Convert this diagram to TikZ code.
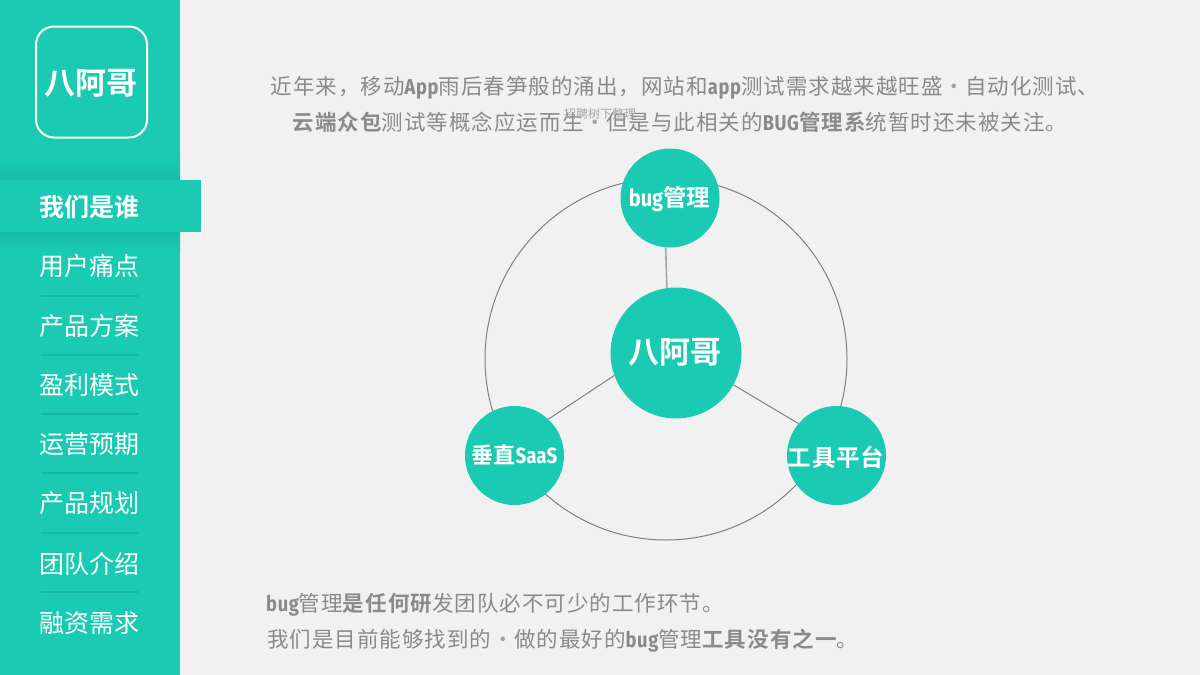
\documentclass[tikz,border=0pt]{standalone}
\usepackage{fontspec}
\setmainfont{Noto Sans CJK SC}
\newfontfamily\cjkb{Noto Sans CJK SC Bold}
\newfontfamily\latb[FakeStretch=0.85]{Fira Sans Bold}
\newfontfamily\bodyf[LetterSpace=4.8]{Noto Sans CJK SC}
\newfontfamily\bodyb[LetterSpace=4.8]{Noto Sans CJK SC Bold}
\newfontfamily\bodyl[FakeStretch=0.85,LetterSpace=3]{Fira Sans Bold}
\newfontfamily\hubf[LetterSpace=3]{Noto Sans CJK SC Bold}
\definecolor{teal1}{HTML}{1ACAB2}
\definecolor{teal2}{HTML}{14B8A2}
\definecolor{shade}{HTML}{18BCA6}
\definecolor{bgc}{HTML}{F1F1F1}
\definecolor{txt}{HTML}{8A8A8A}
\definecolor{ringc}{HTML}{808080}
\definecolor{spokec}{HTML}{A8A8A8}
\newcommand{\bb}[1]{{\bodyb #1}}
\newcommand{\la}[1]{{\bodyl #1}}
\newcommand{\hl}[1]{{\latb #1}}
\newcommand{\mdot}{\makebox[1.05em]{\textcolor{txt!80}{·}}}
\begin{document}
\begin{tikzpicture}[x=1pt,y=-1pt,
  menuitem/.style={text=white,font=\fontsize{25}{25}\selectfont,anchor=center,inner sep=0pt},
  sep/.style={teal2,line width=1.2pt},
  hub/.style={circle,fill=teal1,text=white,inner sep=0pt},
  spoke/.style={ringc,line width=1pt},
  bodytext/.style={text=txt,inner sep=0pt,font=\bodyf\fontsize{21.5}{21.5}\selectfont}]
\useasboundingbox (0,0) rectangle (1200,675);
\fill[bgc] (0,0) rectangle (1200,675);
\fill[teal1] (0,0) rectangle (180,675);
\shade[top color=teal1,bottom color=shade] (0,158) rectangle (180,180);
\shade[top color=shade,bottom color=teal1] (0,232) rectangle (180,250);
\fill[teal1] (0,180) rectangle (201,232);
\node[draw=white,line width=2pt,rounded corners=18pt,minimum width=111pt,minimum height=111pt,inner sep=0pt] (logo) at (91.5,82) {};
\node[text=white,inner sep=0pt,font=\cjkb\fontsize{31}{31}\selectfont] (logot) at (91,83) {八阿哥};
\node[menuitem,font=\cjkb\fontsize{25}{25}\selectfont] (m1) at (89,207) {我们是谁};
\node[menuitem] (m2) at (89,266) {用户痛点};
\node[menuitem] (m3) at (89,326) {产品方案};
\node[menuitem] (m4) at (89,385) {盈利模式};
\node[menuitem] (m5) at (89,444) {运营预期};
\node[menuitem] (m6) at (89,503) {产品规划};
\node[menuitem] (m7) at (89,564) {团队介绍};
\node[menuitem] (m8) at (89,623) {融资需求};
\foreach \y in {296,355,414,473,533,592} \draw[sep] (41,\y) -- (138,\y);
\node[bodytext] (t1) at (685,88) {近年来，移动\la{App}雨后春笋般的涌出，网站和\la{app}测试需求越来越旺盛\mdot 自动化测试、};
\node[bodytext] (t2) at (680,122) {\bb{云端众包}测试等概念应运而生\mdot 但是与此相关的\la{BUG}\bb{管理系}统暂时还未被关注。};
\node[text=txt!75,inner sep=0pt,font=\fontsize{12}{12}\selectfont] (t3) at (600,114) {招聘树下整理};
\node[draw=ringc,line width=1pt,circle,minimum size=362pt,inner sep=0pt] (ring) at (666,359) {};
\node[hub,minimum size=131pt] (c) at (676,353) {};
\node[text=white,inner sep=0pt,font=\cjkb\fontsize{31}{31}\selectfont] (ct) at (675,352) {八阿哥};
\node[hub,minimum size=99pt] (a) at (670,198) {};
\node[text=white,inner sep=0pt,font=\cjkb\fontsize{23.5}{23.5}\selectfont] (at) at (669.5,199) {\hl{bug}管理};
\node[hub,minimum size=99pt] (b) at (514.5,455.5) {};
\node[text=white,inner sep=0pt,font=\cjkb\fontsize{22}{22}\selectfont] (bt) at (514.5,455) {垂直\hl{SaaS}};
\node[hub,minimum size=99pt] (d) at (836.5,455.5) {};
\node[text=white,inner sep=0pt,font=\hubf\fontsize{23.5}{23.5}\selectfont] (dt) at (836,457) {工具平台};
\draw[spokec,line width=1.6pt] (a.265.4) -- (c.98.8);
\draw[spoke] (c.200.9) -- (b.47.5);
\draw[spoke] (c.-29.6) -- (d.140.7);
\node[bodytext,anchor=west] (b1) at (266,605) {\la{bug}管理\bb{是任何研}发团队必不可少的工作环节。};
\node[bodytext,anchor=west] (b2) at (267,641) {我们是目前能够找到的\mdot 做的最好的\la{bug}管理\bb{工具没有之一}。};
\end{tikzpicture}
\end{document}
